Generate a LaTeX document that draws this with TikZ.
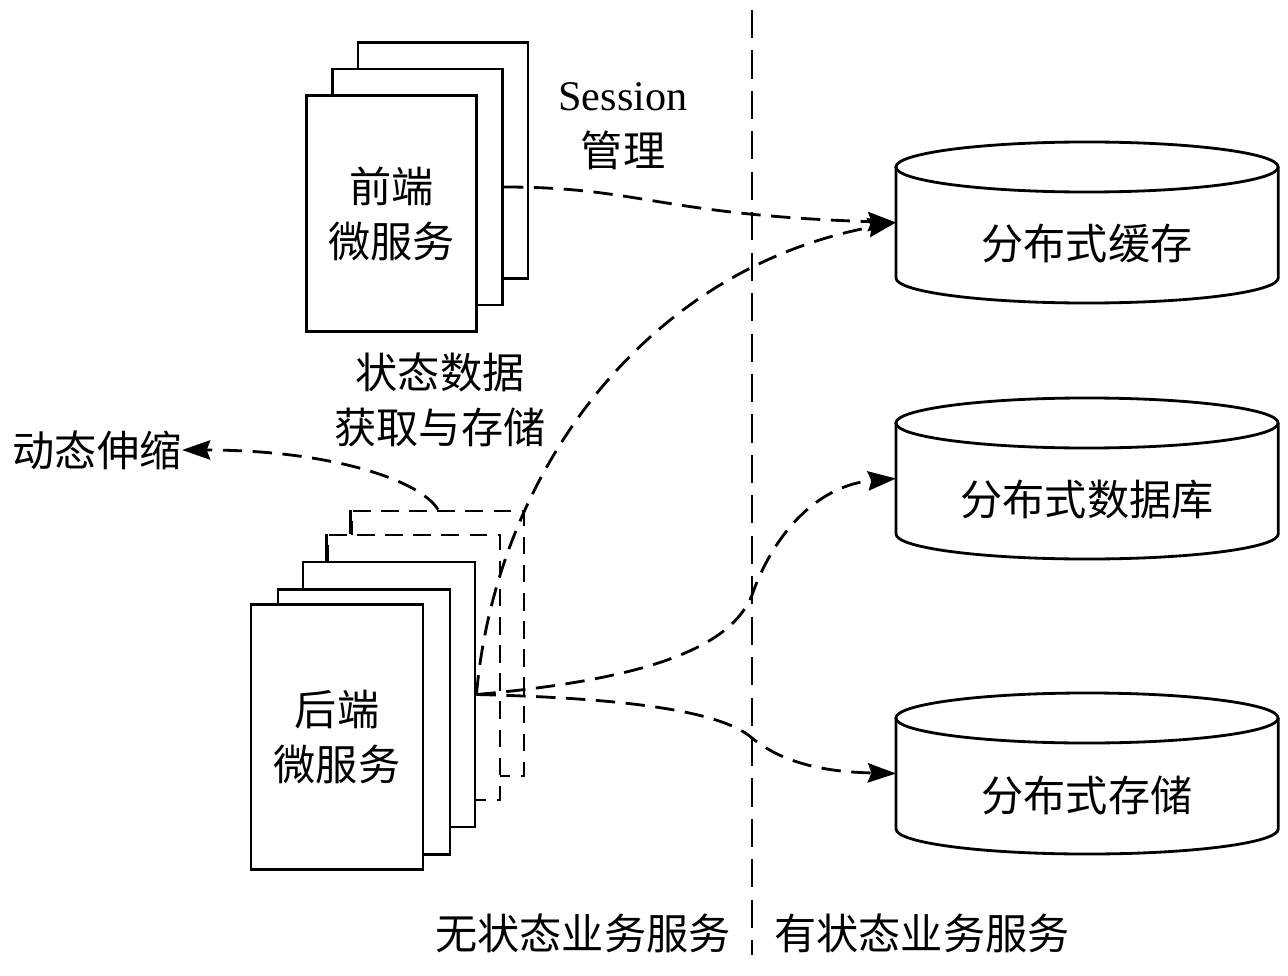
\documentclass[tikz,border=0pt]{standalone}
\usepackage{fontspec}
\setmainfont{Liberation Serif}
\newfontfamily\cjk{Noto Sans CJK SC}
\usetikzlibrary{arrows.meta}

\tikzset{
  card/.style={draw, thick, fill=white, inner sep=0pt, minimum width=1.70cm, minimum height=2.36cm},
  bigcard/.style={card, minimum width=1.72cm, minimum height=2.65cm},
  ghost/.style={bigcard, dash pattern=on 5pt off 3pt},
  txt/.style={font=\cjk\fontsize{12}{15.6}\selectfont, align=center, inner sep=0pt},
  flow/.style={thick, dash pattern=on 5.5pt off 3pt, -{Stealth[length=8pt,width=5.5pt,inset=1pt]}},
}

\begin{document}
\begin{tikzpicture}[x=0.01cm,y=-0.01cm]
\useasboundingbox (0,0) rectangle (1288,976);

% divider
\draw[thick, dash pattern=on 8pt off 3.5pt] (752,10) -- (752,955);

% storage side
\foreach \yt/\nm/\tx in {167/cache/分布式缓存, 423/db/分布式数据库, 718/store/分布式存储}{
  \draw[thick, fill=white] (896,\yt) -- ++(0,111)
    arc[start angle=180, end angle=360, x radius=1.91cm, y radius=0.25cm] -- ++(0,-111);
  \draw[thick] (1087,\yt) ellipse[x radius=1.91cm, y radius=0.25cm];
  \node[txt] (\nm) at (1087,\yt+77) {\tx};
  \coordinate (\nm-in) at (896,\yt+55.5);
}

% front end stack
\node[card] (fe3) at (443,160.5) {};
\node[card] (fe2) at (417.5,187) {};
\node[card, txt, minimum width=1.70cm, minimum height=2.36cm, draw, thick, fill=white] (fe1) at (391.5,213.5) {前端\\微服务};

% back end stack
\node[ghost] (be5) at (438,643.5) {};
\node[ghost] (be4) at (414,667.5) {};
\node[bigcard] (be3) at (389,694.5) {};
\node[bigcard] (be2) at (364,722) {};
\node[bigcard, txt, minimum width=1.72cm, minimum height=2.65cm, draw, thick, fill=white] (be1) at (337,737) {后端\\微服务};
\draw[thick] (be4.north west) -- (be4.west |- be3.north);
\draw[thick] (be5.north west) -- (be5.west |- be4.north);

% labels
\node (sess) at (623,126) [align=center, inner sep=0pt, font=\fontsize{12}{16}\selectfont] {Session\\{\cjk 管理}};
\node[txt] (state) at (440,400) {状态数据\\获取与存储};
\node[txt] (scale) at (97,450) {动态伸缩};
\node[txt] (free) at (583,933) {无状态业务服务};
\node[txt] (full) at (922,933) {有状态业务服务};

% connectors
\draw[flow] (fe2.east) .. controls (640,187) and (660,215) .. (cache-in);
\draw[flow] (be3.east) .. controls (495,480) and (640,270) .. (cache-in);
\draw[flow] (be3.east) .. controls (640,680) and (730,650) .. (752,595)
  .. controls (775,530) and (820,485) .. (db-in);
\draw[flow] (be3.east) .. controls (620,698) and (720,710) .. (752,738)
  .. controls (785,765) and (830,772) .. (store-in);
\draw[flow] (be5.north) .. controls (420,480) and (330,450) .. (scale.east);
\end{tikzpicture}
\end{document}
